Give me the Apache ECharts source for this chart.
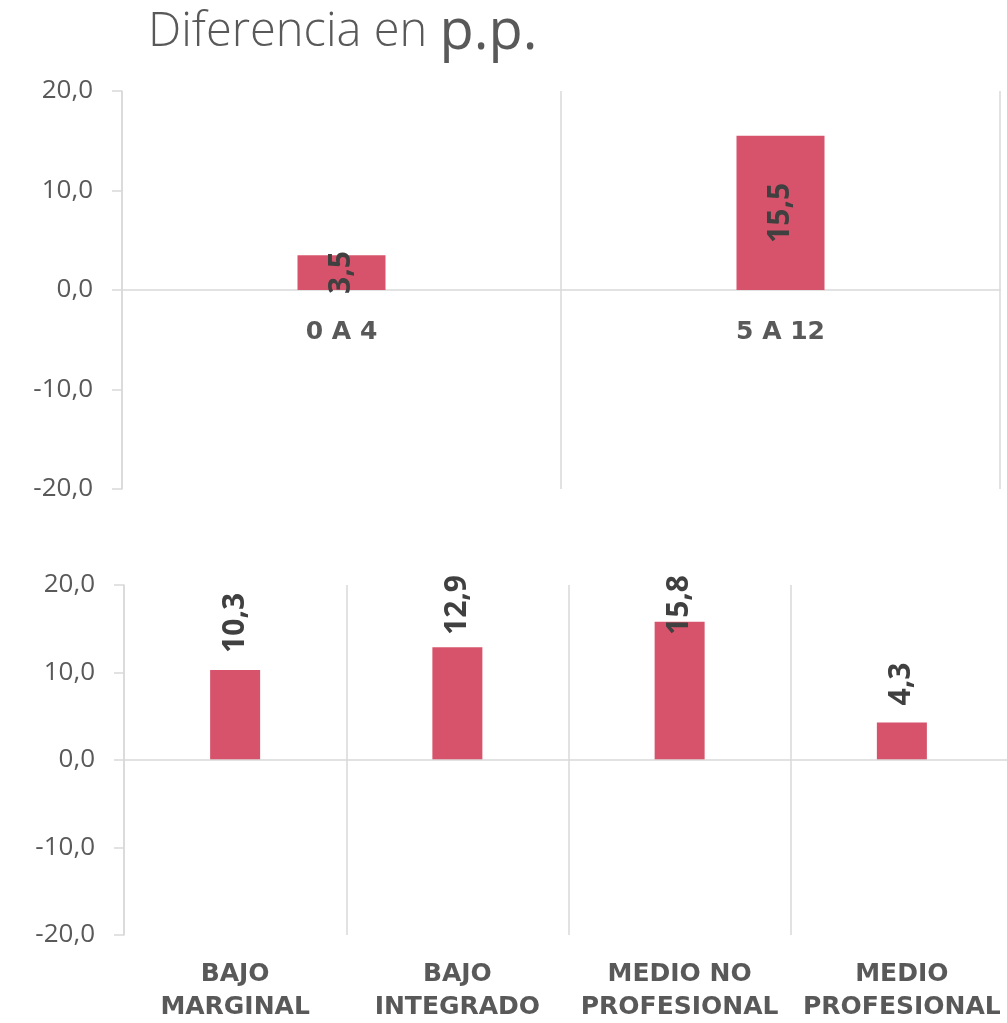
<!DOCTYPE html>
<html>
<head>
<meta charset="utf-8">
<script src="https://cdn.jsdelivr.net/npm/echarts@6/dist/echarts.min.js"></script>
<style>
  html, body { margin: 0; padding: 0; background: #ffffff; }
  #chart { width: 1007px; height: 1023px; }
</style>
</head>
<body>
<div id="chart"></div>
<script>
// Age groups (upper panel)
const ageCategories = ['0 A 4', '5 A 12'];
const ageValues = [3.5, 15.5];

// Socio-economic levels (lower panel)
const levelCategories = ['BAJO\nMARGINAL', 'BAJO\nINTEGRADO', 'MEDIO NO\nPROFESIONAL', 'MEDIO\nPROFESIONAL'];
const levelValues = [10.3, 12.9, 15.8, 4.3];

// Value axis ticks shared by both panels
const yTicks = [-20, -10, 0, 10, 20];

const GRAY_LINE = '#D9D9D9';
const TEXT = '#595959';
const LABEL = '#404040';
const BAR = '#D7536B';

const fmt = v => v.toFixed(1).replace('.', ',');

const Y_MIN = yTicks[0];
const Y_MAX = yTicks[yTicks.length - 1];

const UPPER = { left: 122, top: 91, width: 878, height: 398 };
const LOWER = { left: 124, top: 585, width: 889, height: 350 };

// distance of the zero line above the bottom edge of the upper plot
const upperZeroFromBottom = UPPER.height * (0 - Y_MIN) / (Y_MAX - Y_MIN);

const VALUE_FONT = { family: 'Open Sans', weight: 'bold', size: 30 };
const VALUE_GAP = 17;

// length of a value label string (drawn rotated, so this is its vertical extent)
const measureCtx = document.createElement('canvas').getContext('2d');
function textLength(str) {
  measureCtx.font = VALUE_FONT.weight + ' ' + VALUE_FONT.size + 'px "' + VALUE_FONT.family + '"';
  return measureCtx.measureText(str).width;
}

const yAxisBase = (gridIndex) => ({
  type: 'value',
  gridIndex,
  min: Y_MIN,
  max: Y_MAX,
  interval: yTicks[1] - yTicks[0],
  axisLine: { show: true, lineStyle: { color: GRAY_LINE, width: 1.5 } },
  axisTick: { show: true, length: 10, lineStyle: { color: GRAY_LINE, width: 1.5 } },
  splitLine: { show: false },
  axisLabel: {
    formatter: fmt,
    color: TEXT,
    fontFamily: 'Open Sans',
    fontSize: 26,
    margin: 29
  }
});

const categoryLabel = {
  interval: 0,
  color: TEXT,
  fontFamily: 'DejaVu Sans',
  fontWeight: 'bold',
  fontSize: 25
};

const valueLabel = {
  show: true,
  rotate: 90,
  formatter: p => fmt(p.value),
  color: LABEL,
  fontFamily: VALUE_FONT.family,
  fontWeight: VALUE_FONT.weight,
  fontSize: VALUE_FONT.size
};

const chart = echarts.init(document.getElementById('chart'), null, { renderer: 'canvas' });

chart.setOption({
  backgroundColor: '#ffffff',
  animation: false,
  title: {
    left: 143,
    top: 0,
    text: '{a|Diferencia en }{b|p.p.}',
    textStyle: {
      rich: {
        a: { fontFamily: 'Open Sans', fontWeight: 300, fontSize: 47, color: TEXT },
        b: { fontFamily: 'Open Sans', fontWeight: 400, fontSize: 56, color: TEXT }
      }
    }
  },
  grid: [
    Object.assign({ outerBoundsMode: 'none', containLabel: false }, UPPER),
    Object.assign({ outerBoundsMode: 'none', containLabel: false }, LOWER)
  ],
  xAxis: [
    {
      type: 'category',
      gridIndex: 0,
      data: ageCategories,
      position: 'bottom',
      offset: -upperZeroFromBottom,
      axisLine: { show: true, onZero: false, lineStyle: { color: GRAY_LINE, width: 1.5 } },
      axisTick: { show: false },
      splitLine: { show: true, interval: 0, lineStyle: { color: GRAY_LINE, width: 1.5 } },
      axisLabel: Object.assign({ margin: 30 }, categoryLabel)
    },
    {
      type: 'category',
      gridIndex: 1,
      data: levelCategories,
      position: 'bottom',
      axisLine: { show: false, onZero: false },
      axisTick: { show: false },
      splitLine: { show: true, interval: 0, lineStyle: { color: GRAY_LINE, width: 1.5 } },
      axisLabel: Object.assign({ margin: 23, lineHeight: 33 }, categoryLabel)
    }
  ],
  yAxis: [yAxisBase(0), yAxisBase(1)],
  series: [
    {
      type: 'bar',
      xAxisIndex: 0,
      yAxisIndex: 0,
      data: ageValues,
      barWidth: 88,
      itemStyle: { color: BAR },
      label: Object.assign({ position: 'inside', align: 'center', verticalAlign: 'middle' }, valueLabel)
    },
    {
      type: 'bar',
      xAxisIndex: 1,
      yAxisIndex: 1,
      data: levelValues,
      barWidth: 50,
      itemStyle: { color: BAR },
      label: Object.assign({ position: 'top', distance: VALUE_GAP, align: 'left', verticalAlign: 'middle' }, valueLabel),
      markLine: {
        silent: true,
        symbol: 'none',
        label: { show: false },
        lineStyle: { color: GRAY_LINE, width: 1.5, type: 'solid' },
        data: [{ yAxis: 0 }]
      }
    }
  ]
});

// Labels above tall bars would run past the top of the lower plot:
// push them down so they start just above the plot area.
// The label is rotated 90°, so its own -x direction points down the screen.
const minLabelTop = LOWER.top - 10;
const lowerData = levelValues.map((v, i) => {
  const barTop = chart.convertToPixel({ gridIndex: 1 }, [i, v])[1];
  const naturalTop = barTop - VALUE_GAP - textLength(fmt(v));
  const shift = naturalTop < minLabelTop ? minLabelTop - naturalTop : 0;
  return shift ? { value: v, label: { offset: [-shift, 0] } } : v;
});
chart.setOption({ series: [{}, { data: lowerData }] });
</script>
</body>
</html>
